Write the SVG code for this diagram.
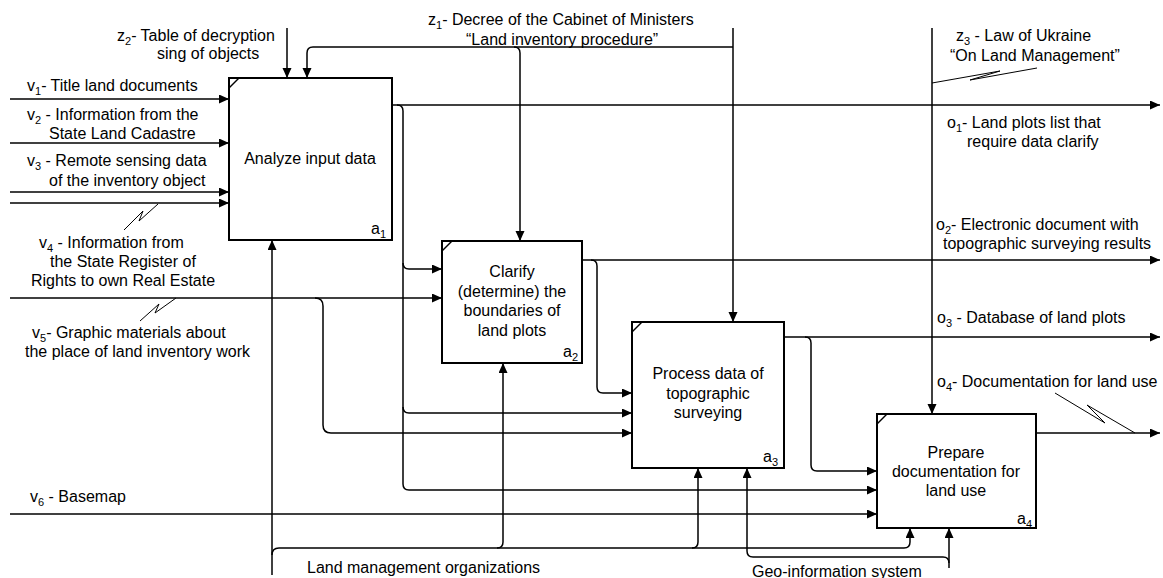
<svg xmlns="http://www.w3.org/2000/svg" width="1163" height="578" viewBox="0 0 1163 578">
<style>
text{font-family:"Liberation Sans",Arial,sans-serif;font-size:16px;fill:#000}
.sub{font-size:11px}
.box{fill:#fff;stroke:#000;stroke-width:2}
.tick{stroke:#000;stroke-width:1.5}
.c{fill:none;stroke:#000;stroke-width:1.5}
.sq{fill:none;stroke:#000;stroke-width:1}
.mid{text-anchor:middle}
</style>
<defs>
<marker id="ah" markerUnits="userSpaceOnUse" markerWidth="11" markerHeight="10" refX="10" refY="4.5" orient="auto">
<path d="M0,0 L10,4.5 L0,9 z" fill="#000"/>
</marker>
</defs>
<rect width="1163" height="578" fill="#fff"/>
<g id="connectors">
<path class="c" d="M10,99 H229" marker-end="url(#ah)"/>
<path class="c" d="M10,143 H229" marker-end="url(#ah)"/>
<path class="c" d="M10,192 H229" marker-end="url(#ah)"/>
<path class="c" d="M10,203 H229" marker-end="url(#ah)"/>
<path class="c" d="M10,298 H442" marker-end="url(#ah)"/>
<path class="c" d="M315,298 Q323,298 323,306 V425 Q323,433 331,433 H632" marker-end="url(#ah)"/>
<path class="c" d="M10,514 H877" marker-end="url(#ah)"/>
<path class="c" d="M392,105 H1160" marker-end="url(#ah)"/>
<path class="c" d="M397,105 Q403,105 403,111 V484 Q403,490 409,490 H877" marker-end="url(#ah)"/>
<path class="c" d="M403,263 Q403,269 409,269 H442" marker-end="url(#ah)"/>
<path class="c" d="M403,407 Q403,413 409,413 H632" marker-end="url(#ah)"/>
<path class="c" d="M582,260 H1160" marker-end="url(#ah)"/>
<path class="c" d="M591,260 Q597,260 597,266 V387 Q597,393 603,393 H632" marker-end="url(#ah)"/>
<path class="c" d="M784,337 H1160" marker-end="url(#ah)"/>
<path class="c" d="M805,337 Q811,337 811,343 V465 Q811,471 817,471 H877" marker-end="url(#ah)"/>
<path class="c" d="M1036,433 H1160" marker-end="url(#ah)"/>
<path class="c" d="M287,28 V78" marker-end="url(#ah)"/>
<path class="c" d="M733,28 V322" marker-end="url(#ah)"/>
<path class="c" d="M733,47 H313 Q307,47 307,53 V78" marker-end="url(#ah)"/>
<path class="c" d="M514,47 Q520,47 520,53 V241" marker-end="url(#ah)"/>
<path class="c" d="M932,28 V414" marker-end="url(#ah)"/>
<path class="c" d="M272,575 V240" marker-end="url(#ah)"/>
<path class="c" d="M272,555 Q272,548 279,548 H904 Q910,548 910,542 V528" marker-end="url(#ah)"/>
<path class="c" d="M497,548 Q503,548 503,542 V363" marker-end="url(#ah)"/>
<path class="c" d="M692,548 Q698,548 698,542 V468" marker-end="url(#ah)"/>
<path class="c" d="M949,568 V528" marker-end="url(#ah)"/>
<path class="c" d="M949,563 Q949,557 943,557 H753 Q747,557 747,551 V468" marker-end="url(#ah)"/>
<polyline class="sq" points="124,230 143,211 139,221 158,204"/>
<polyline class="sq" points="140,321 159,304 155,313 176,298"/>
<polyline class="sq" points="932,83 1000,71 970,80 1037,68"/>
<polyline class="sq" points="1055,393 1105,423 1087,405 1135,433"/>
</g>
<g id="a1">
<rect class="box" x="229" y="78" width="163" height="162"/>
<line class="tick" x1="229" y1="88" x2="239" y2="78"/>
<text class="mid" x="310" y="164">Analyze input data</text>
<text x="371" y="234">a<tspan class="sub" dy="4">1</tspan></text>
</g>
<g id="a2">
<rect class="box" x="442" y="241" width="140" height="122"/>
<line class="tick" x1="442" y1="251" x2="452" y2="241"/>
<text class="mid" x="512" y="277">Clarify</text>
<text class="mid" x="512" y="297">(determine) the</text>
<text class="mid" x="512" y="316">boundaries of</text>
<text class="mid" x="512" y="336">land plots</text>
<text x="563" y="357">a<tspan class="sub" dy="4">2</tspan></text>
</g>
<g id="a3">
<rect class="box" x="632" y="322" width="152" height="146"/>
<line class="tick" x1="632" y1="332" x2="642" y2="322"/>
<text class="mid" x="708" y="379">Process data of</text>
<text class="mid" x="708" y="399">topographic</text>
<text class="mid" x="708" y="418">surveying</text>
<text x="763" y="462">a<tspan class="sub" dy="4">3</tspan></text>
</g>
<g id="a4">
<rect class="box" x="877" y="414" width="159" height="114"/>
<line class="tick" x1="877" y1="424" x2="887" y2="414"/>
<text class="mid" x="956" y="458">Prepare</text>
<text class="mid" x="956" y="477">documentation for</text>
<text class="mid" x="956" y="496">land use</text>
<text x="1017" y="524">a<tspan class="sub" dy="4">4</tspan></text>
</g>
<g id="labels">
<text x="117" y="41">z<tspan class="sub" dy="4">2</tspan><tspan dy="-4">- Table of decryption</tspan></text>
<text x="157" y="59">sing of objects</text>
<text x="428" y="25">z<tspan class="sub" dy="4">1</tspan><tspan dy="-4">- Decree of the Cabinet of Ministers</tspan></text>
<text x="466" y="45">“Land inventory procedure”</text>
<text x="956" y="41">z<tspan class="sub" dy="4">3</tspan><tspan dy="-4"> - Law of Ukraine</tspan></text>
<text x="950" y="61">“On Land Management”</text>
<text x="947" y="128">o<tspan class="sub" dy="4">1</tspan><tspan dy="-4">- Land plots list that</tspan></text>
<text x="967" y="147">require data clarify</text>
<text x="936" y="230">o<tspan class="sub" dy="4">2</tspan><tspan dy="-4">- Electronic document with</tspan></text>
<text x="943" y="249">topographic surveying results</text>
<text x="937" y="323">o<tspan class="sub" dy="4">3</tspan><tspan dy="-4"> - Database of land plots</tspan></text>
<text x="937" y="387">o<tspan class="sub" dy="4">4</tspan><tspan dy="-4">- Documentation for land use</tspan></text>
<text x="27" y="91">v<tspan class="sub" dy="4">1</tspan><tspan dy="-4">- Title land documents</tspan></text>
<text x="27" y="120">v<tspan class="sub" dy="4">2</tspan><tspan dy="-4"> - Information from the</tspan></text>
<text x="49" y="139">State Land Cadastre</text>
<text x="27" y="166">v<tspan class="sub" dy="4">3</tspan><tspan dy="-4"> - Remote sensing data</tspan></text>
<text x="49" y="186">of the inventory object</text>
<text x="39" y="248">v<tspan class="sub" dy="4">4</tspan><tspan dy="-4"> - Information from</tspan></text>
<text x="50" y="267">the State Register of</text>
<text x="31" y="286">Rights to own Real Estate</text>
<text x="32" y="338">v<tspan class="sub" dy="4">5</tspan><tspan dy="-4">- Graphic materials about</tspan></text>
<text x="25" y="357">the place of land inventory work</text>
<text x="30" y="502">v<tspan class="sub" dy="4">6</tspan><tspan dy="-4"> - Basemap</tspan></text>
<text x="307" y="573">Land management organizations</text>
<text x="752" y="577">Geo-information system</text>
</g>
</svg>
